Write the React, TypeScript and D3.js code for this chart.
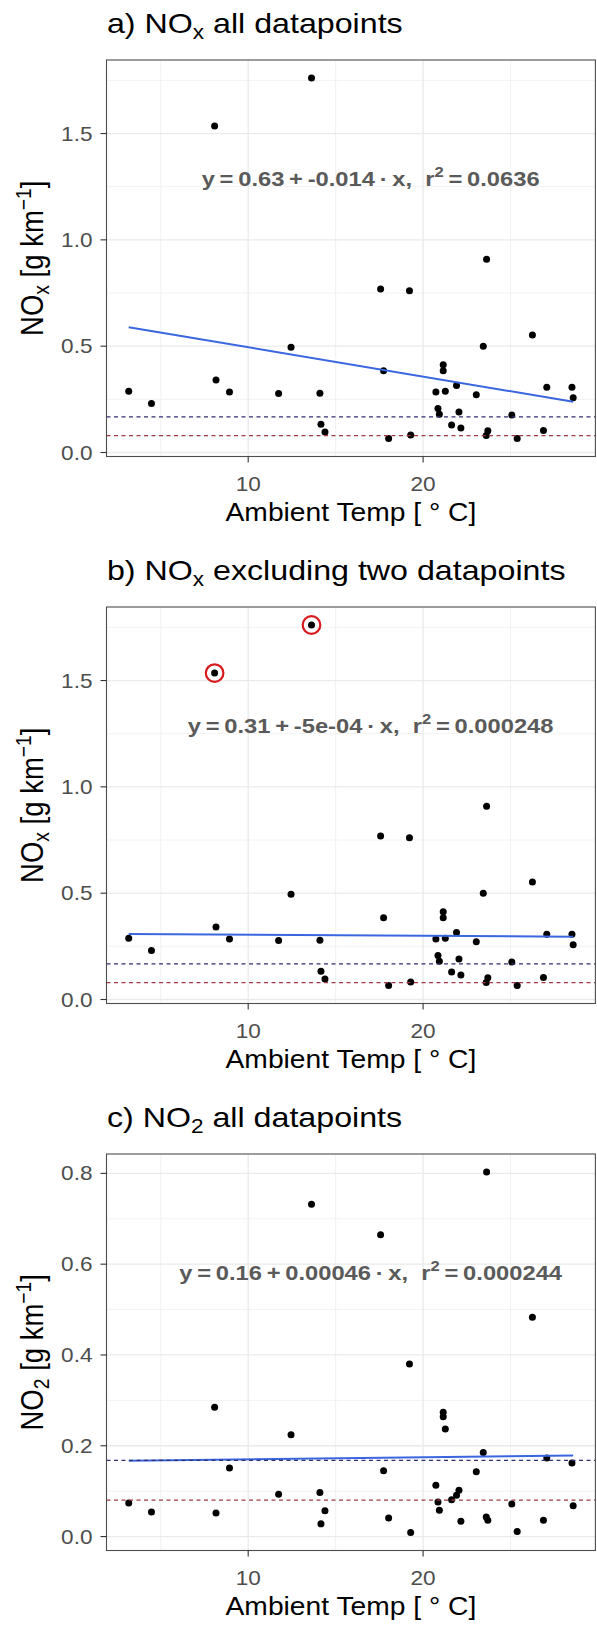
import React from 'react';
import * as d3 from 'd3';

// ---------- data ----------
const temperature = [3.17, 4.47, 8.08, 8.16, 8.93, 11.74, 12.45, 13.62, 14.10, 14.16, 14.39, 17.57, 17.74, 18.03, 19.22, 19.29, 20.73, 20.85, 20.93, 21.15, 21.15, 21.27, 21.63, 21.91, 22.05, 22.16, 23.04, 23.44, 23.61, 23.63, 23.70, 25.07, 25.38, 26.25, 26.88, 27.07, 28.51, 28.58];
const noxValues = [0.288, 0.230, 1.535, 0.341, 0.284, 0.277, 0.495, 1.761, 0.279, 0.133, 0.096, 0.769, 0.385, 0.066, 0.761, 0.082, 0.284, 0.207, 0.180, 0.413, 0.384, 0.288, 0.129, 0.315, 0.191, 0.115, 0.272, 0.500, 0.080, 0.909, 0.102, 0.176, 0.066, 0.553, 0.103, 0.307, 0.307, 0.258];
const no2Values = [0.074, 0.054, 0.285, 0.052, 0.151, 0.093, 0.224, 0.732, 0.097, 0.028, 0.057, 0.665, 0.145, 0.041, 0.380, 0.009, 0.113, 0.076, 0.058, 0.274, 0.264, 0.237, 0.081, 0.091, 0.102, 0.034, 0.143, 0.185, 0.043, 0.803, 0.036, 0.072, 0.011, 0.483, 0.036, 0.173, 0.162, 0.068];
const excludedIdx = [2, 7]; // the two datapoints circled & excluded in panel b

const panelLetters = ['a)', 'b)', 'c)'];
const panelSpecies = ['x', 'x', '2'];
const panelTitleRest = [' all datapoints', ' excluding two datapoints', ' all datapoints'];

const fitIntercept = [0.633, 0.3096, 0.1655];
const fitSlope = [-0.0138, -0.0005, 0.00046];
const eqIntercept = ['0.63', '0.31', '0.16'];
const eqSlope = ['-0.014', '-5e-04', '0.00046'];
const eqR2 = ['0.0636', '0.000248', '0.000244'];

const limitValues = [0.168, 0.08];
const limitColors = ['#2f2f72', '#a03a46'];

const xMajor = [10, 20];
const xMinor = [5, 15, 25];
const yMajorNox = [0, 0.5, 1.0, 1.5];
const yMinorNox = [0.25, 0.75, 1.25, 1.75];
const yMajorNo2 = [0, 0.2, 0.4, 0.6, 0.8];
const yMinorNo2 = [0.1, 0.3, 0.5, 0.7];

// ---------- layout ----------
const W = 597;
const H = 1633;
const LEFT = 106.5;
const RIGHT = 595.4;
const PANEL_TOPS = [60, 607, 1154];
const PANEL_H = 396.5;
const SX = 1.13;
const FONT = "'Liberation Sans', Arial, Helvetica, sans-serif";

function expand([lo, hi]: [number, number]): [number, number] {
  const r = hi - lo;
  return [lo - 0.05 * r, hi + 0.05 * r];
}

function SText(props: any) {
  const { x, y, anchor = 'start', size, fill = '#000', weight = 'normal', rotate = false, children } = props;
  const tf = rotate
    ? `translate(${x},${y}) rotate(-90) scale(1,${SX})`
    : `translate(${x},${y}) scale(${SX},1)`;
  return (
    <g transform={tf}>
      <text textAnchor={anchor} fontSize={size} fill={fill} fontWeight={weight} fontFamily={FONT} style={{ whiteSpace: 'pre' }}>
        {children}
      </text>
    </g>
  );
}

function Panel({ i, x }: { i: number; x: d3.ScaleLinear<number, number> }) {
  const top = PANEL_TOPS[i];
  const bottom = top + PANEL_H;
  const yVals = i === 2 ? no2Values : noxValues;
  const yMajor = i === 2 ? yMajorNo2 : yMajorNox;
  const yMinor = i === 2 ? yMinorNo2 : yMinorNox;
  const y = d3.scaleLinear().domain(expand(d3.extent(yVals) as [number, number])).range([bottom, top]);
  const fmt = d3.format('.1f');

  const fitIdx = temperature.map((_, k) => k).filter((k) => i !== 1 || !excludedIdx.includes(k));
  const fitX = d3.extent(fitIdx.map((k) => temperature[k])) as [number, number];
  const fitLine = d3.line<number>().x((t) => x(t)).y((t) => y(fitIntercept[i] + fitSlope[i] * t));

  const cx = (LEFT + RIGHT) / 2;
  const cy = (top + bottom) / 2;

  return (
    <g>
      {/* title */}
      <SText x={LEFT + 0.4} y={top - 26.7} size={28.5}>
        {panelLetters[i] + ' NO'}
        <tspan fontSize={20} dy={6}>{panelSpecies[i]}</tspan>
        <tspan dy={-6}>{panelTitleRest[i]}</tspan>
      </SText>

      {/* grid */}
      {yMinor.map((v) => (
        <line key={'ym' + v} x1={LEFT} x2={RIGHT} y1={y(v)} y2={y(v)} stroke="#F2F2F2" strokeWidth={1} />
      ))}
      {xMinor.map((v) => (
        <line key={'xm' + v} x1={x(v)} x2={x(v)} y1={top} y2={bottom} stroke="#F2F2F2" strokeWidth={1} />
      ))}
      {yMajor.map((v) => (
        <line key={'yM' + v} x1={LEFT} x2={RIGHT} y1={y(v)} y2={y(v)} stroke="#EAEAEA" strokeWidth={1.3} />
      ))}
      {xMajor.map((v) => (
        <line key={'xM' + v} x1={x(v)} x2={x(v)} y1={top} y2={bottom} stroke="#EAEAEA" strokeWidth={1.3} />
      ))}

      {/* points */}
      {temperature.map((t, k) => (
        <circle key={'p' + k} cx={x(t)} cy={y(yVals[k])} r={3.5} fill="#000" />
      ))}

      {/* excluded markers */}
      {i === 1 &&
        excludedIdx.map((k) => (
          <circle key={'ex' + k} cx={x(temperature[k])} cy={y(yVals[k])} r={8.8} fill="none" stroke="#D7191C" strokeWidth={2.2} />
        ))}

      {/* regression line */}
      <path d={fitLine(fitX) || ''} fill="none" stroke="#3a66e0" strokeWidth={2} />

      {/* limit lines */}
      {limitValues.map((v, k) => (
        <line key={'lim' + k} x1={LEFT} x2={RIGHT} y1={y(v)} y2={y(v)} stroke={limitColors[k]} strokeWidth={1.25} strokeDasharray="4 3.5" />
      ))}

      {/* equation */}
      <SText x={x(17)} y={top + 126} anchor="middle" size={21} fill="#5a5a5a" weight="bold">
        {'y\u2009=\u2009' + eqIntercept[i] + '\u2009+\u2009' + eqSlope[i] + '\u2009\u00B7\u2009x,  r'}
        <tspan fontSize={14.7} dy={-9}>2</tspan>
        <tspan dy={9}>{'\u2009=\u2009' + eqR2[i]}</tspan>
      </SText>

      {/* panel border */}
      <rect x={LEFT} y={top} width={RIGHT - LEFT} height={PANEL_H} fill="none" stroke="#4d4d4d" strokeWidth={1.1} />

      {/* y ticks */}
      {yMajor.map((v) => (
        <g key={'yt' + v}>
          <line x1={LEFT - 6} x2={LEFT} y1={y(v)} y2={y(v)} stroke="#333" strokeWidth={1.1} />
          <SText x={92.5} y={y(v) + 7.1} anchor="end" size={20} fill="#4D4D4D">
            {fmt(v)}
          </SText>
        </g>
      ))}

      {/* x ticks */}
      {xMajor.map((v) => (
        <g key={'xt' + v}>
          <line x1={x(v)} x2={x(v)} y1={bottom} y2={bottom + 6} stroke="#333" strokeWidth={1.1} />
          <SText x={x(v)} y={bottom + 34.5} anchor="middle" size={20} fill="#4D4D4D">
            {String(v)}
          </SText>
        </g>
      ))}

      {/* x title */}
      <SText x={cx} y={bottom + 64} anchor="middle" size={25}>
        {'Ambient Temp [ \u00B0 C]'}
      </SText>

      {/* y title */}
      <SText x={43} y={cy} anchor="middle" size={27.5} rotate>
        {'NO'}
        <tspan fontSize={19.3} dy={5}>{panelSpecies[i]}</tspan>
        <tspan dy={-5}>{' [g km'}</tspan>
        <tspan fontSize={19.3} dy={-11}>{'\u22121'}</tspan>
        <tspan dy={11}>{']'}</tspan>
      </SText>
    </g>
  );
}

export default function App() {
  const x = d3.scaleLinear().domain(expand(d3.extent(temperature) as [number, number])).range([LEFT, RIGHT]);
  return (
    <div style={{ position: 'absolute', left: 0, top: 0 }}>
      <svg width={W} height={H} style={{ display: 'block', background: '#fff' }}>
        <rect x={0} y={0} width={W} height={H} fill="#fff" />
        {[0, 1, 2].map((i) => (
          <Panel key={i} i={i} x={x} />
        ))}
      </svg>
    </div>
  );
}
